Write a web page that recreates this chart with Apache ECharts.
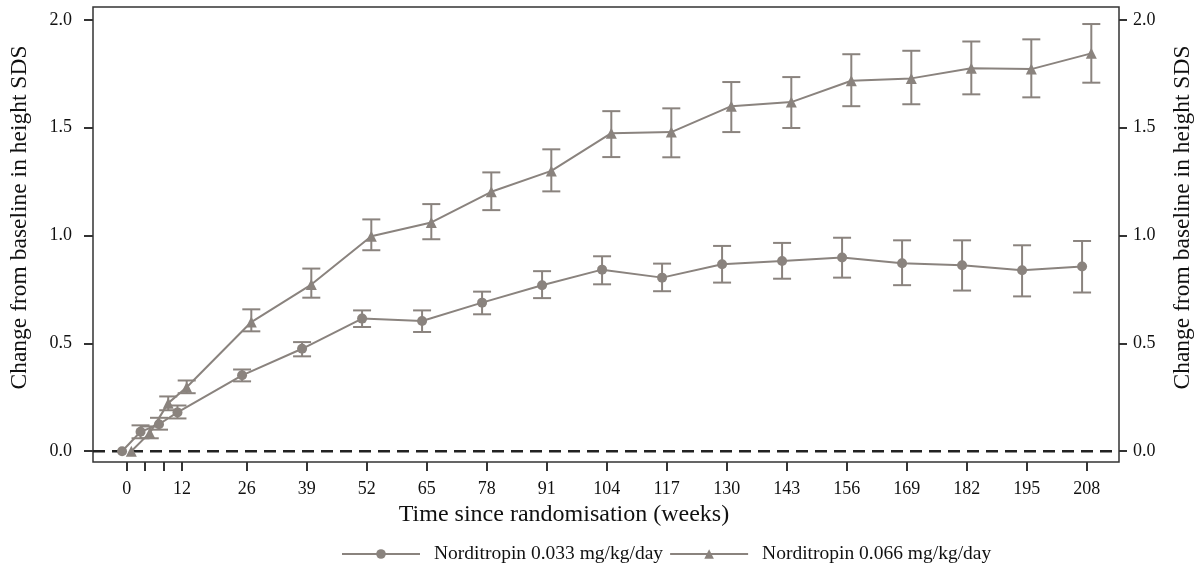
<!DOCTYPE html>
<html>
<head>
<meta charset="utf-8">
<script src="https://cdn.jsdelivr.net/npm/echarts@6/dist/echarts.min.js"></script>
<style>
html,body{margin:0;padding:0;background:#fff;}
#chart{width:1203px;height:572px;}
</style>
</head>
<body>
<div id="chart"></div>
<script>
// ---- data ----
const weeks = [0, 4, 8, 12, 26, 39, 52, 65, 78, 91, 104, 117, 130, 143, 156, 169, 182, 195, 208];
const tickWeeks = [0, 4, 8, 12, 26, 39, 52, 65, 78, 91, 104, 117, 130, 143, 156, 169, 182, 195, 208];
const labelWeeks = [0, 12, 26, 39, 52, 65, 78, 91, 104, 117, 130, 143, 156, 169, 182, 195, 208];
const yTicks = [0, 0.5, 1.0, 1.5, 2.0];

const seriesNames = ['Norditropin 0.033 mg/kg/day', 'Norditropin 0.066 mg/kg/day'];

const lowMean  = [0, 0.09, 0.125, 0.18, 0.352, 0.475, 0.615, 0.604, 0.689, 0.77, 0.842, 0.805, 0.867, 0.882, 0.898, 0.872, 0.862, 0.839, 0.857];
const lowLower = [0, 0.06, 0.10, 0.152, 0.324, 0.44, 0.576, 0.553, 0.635, 0.71, 0.774, 0.742, 0.782, 0.80, 0.805, 0.77, 0.745, 0.718, 0.736];
const lowUpper = [0, 0.12, 0.155, 0.212, 0.379, 0.506, 0.653, 0.653, 0.74, 0.835, 0.904, 0.87, 0.952, 0.966, 0.99, 0.978, 0.978, 0.955, 0.975];

const highMean  = [0, 0.085, 0.223, 0.297, 0.599, 0.773, 0.997, 1.061, 1.203, 1.30, 1.475, 1.48, 1.60, 1.619, 1.718, 1.729, 1.776, 1.772, 1.845];
const highLower = [0, 0.06, 0.19, 0.269, 0.556, 0.712, 0.932, 0.983, 1.118, 1.205, 1.364, 1.363, 1.48, 1.499, 1.60, 1.609, 1.655, 1.641, 1.709];
const highUpper = [0, 0.115, 0.254, 0.328, 0.658, 0.847, 1.075, 1.146, 1.293, 1.40, 1.577, 1.59, 1.712, 1.735, 1.841, 1.857, 1.90, 1.91, 1.981];

// axis ranges
const X_MIN = -7.3, X_MAX = 215;
const Y_MIN = -0.05, Y_MAX = 2.06;
const BASELINE = 0;

// ---- style ----
const COLOR = '#8a837e';
const AXIS = '#333333';
const FONT = 'Liberation Serif';
const DODGE = 1; // horizontal offset (weeks) between the two groups

const chart = echarts.init(document.getElementById('chart'), null, {renderer: 'canvas'});

function errSeries(name, xs, lo, hi, off) {
  const data = xs.map((w, i) => [w + off, lo[i], hi[i]]);
  return {
    name: name,
    type: 'custom',
    xAxisIndex: 0, yAxisIndex: 0,
    z: 2,
    silent: true,
    encode: {x: 0, y: [1, 2]},
    data: data,
    renderItem: function (params, api) {
      const x = api.value(0), l = api.value(1), h = api.value(2);
      if (h - l <= 0) return null;
      const pt = api.coord([x, h]);
      const pb = api.coord([x, l]);
      const hw = 9;
      const st = {stroke: COLOR, lineWidth: 2};
      return {
        type: 'group',
        children: [
          {type: 'line', shape: {x1: pt[0], y1: pt[1], x2: pb[0], y2: pb[1]}, style: st},
          {type: 'line', shape: {x1: pt[0] - hw, y1: pt[1], x2: pt[0] + hw, y2: pt[1]}, style: st},
          {type: 'line', shape: {x1: pb[0] - hw, y1: pb[1], x2: pb[0] + hw, y2: pb[1]}, style: st}
        ]
      };
    }
  };
}

const yAxisCommon = {
  type: 'value',
  min: Y_MIN,
  max: Y_MAX,
  splitLine: {show: false},
  axisLine: {show: false, onZero: false},
  axisTick: {show: true, customValues: yTicks, length: 9, lineStyle: {color: AXIS, width: 2}},
  axisLabel: {
    customValues: yTicks,
    formatter: v => v.toFixed(1),
    fontFamily: FONT, fontSize: 18, color: '#111'
  },
  name: 'Change from baseline in height SDS',
  nameLocation: 'middle',
  nameRotate: 90,
  nameTextStyle: {fontFamily: FONT, fontSize: 23.5, color: '#111', padding: [0, 0, 0, 34]}
};

const option = {
  backgroundColor: '#fff',
  animation: false,
  grid: {
    left: 93, right: 82, top: 7, bottom: 110,
    show: true, borderColor: AXIS, borderWidth: 1.5, backgroundColor: 'transparent'
  },
  legend: {
    left: 341, top: 544, padding: 0,
    itemWidth: 78, itemHeight: 12, itemGap: 6,
    textStyle: {fontFamily: FONT, fontSize: 19.5, color: '#111', padding: [0, 0, 0, 9]},
    data: [seriesNames[0], seriesNames[1]]
  },
  xAxis: {
    type: 'value',
    min: X_MIN,
    max: X_MAX,
    splitLine: {show: false},
    axisLine: {show: false, onZero: false},
    axisTick: {show: true, customValues: tickWeeks, length: 9, lineStyle: {color: AXIS, width: 2}},
    axisLabel: {
      customValues: labelWeeks,
      margin: 18,
      fontFamily: FONT, fontSize: 18, color: '#111'
    },
    name: 'Time since randomisation (weeks)',
    nameLocation: 'middle',
    nameGap: 41,
    nameTextStyle: {fontFamily: FONT, fontSize: 24, color: '#111', padding: [0, 84, 0, 0]}
  },
  yAxis: [
    Object.assign({}, yAxisCommon, {
      position: 'left', nameGap: 61,
      axisLabel: Object.assign({}, yAxisCommon.axisLabel, {margin: 21})
    }),
    Object.assign({}, yAxisCommon, {
      position: 'right', nameGap: 52,
      axisTick: Object.assign({}, yAxisCommon.axisTick, {length: 8}),
      axisLabel: Object.assign({}, yAxisCommon.axisLabel, {margin: 14})
    })
  ],
  series: [
    {
      name: 'baseline',
      type: 'line',
      z: 1,
      silent: true,
      symbol: 'none',
      data: [[X_MIN, BASELINE], [X_MAX, BASELINE]],
      lineStyle: {color: '#222', width: 2.5, type: [12, 7]}
    },
    errSeries('err-low', weeks, lowLower, lowUpper, -DODGE),
    errSeries('err-high', weeks, highLower, highUpper, DODGE),
    {
      name: seriesNames[0],
      type: 'line',
      z: 3,
      data: weeks.map((w, i) => [w - DODGE, lowMean[i]]),
      symbol: 'circle',
      symbolSize: 10,
      itemStyle: {color: COLOR},
      lineStyle: {color: COLOR, width: 2}
    },
    {
      name: seriesNames[1],
      type: 'line',
      z: 3,
      data: weeks.map((w, i) => [w + DODGE, highMean[i]]),
      symbol: 'triangle',
      symbolSize: 11,
      itemStyle: {color: COLOR},
      lineStyle: {color: COLOR, width: 2}
    }
  ]
};

chart.setOption(option);
</script>
</body>
</html>
